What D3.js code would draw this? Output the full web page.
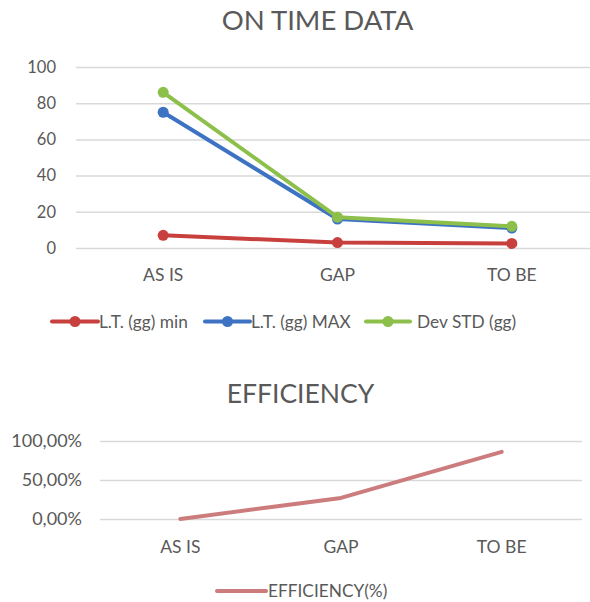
<!DOCTYPE html>
<html>
<head>
<meta charset="utf-8">
<script src="https://cdn.jsdelivr.net/npm/d3@7"></script>
<style>
  html, body { margin: 0; padding: 0; background: #fff; }
  svg { display: block; font-family: Lato, "Open Sans", sans-serif; }
</style>
</head>
<body>
<svg id="chart" width="590" height="602"></svg>
<script>
// Categories shared by both panels
const categories = ["AS IS", "GAP", "TO BE"];

// ON TIME DATA series
const ltMin = [7, 3, 2.5];
const ltMax = [75, 16, 11];
const devStd = [86, 17, 12];
const onTimeNames = ["L.T. (gg) min", "L.T. (gg) MAX", "Dev STD (gg)"];
const onTimeTicks = [0, 20, 40, 60, 80, 100];

// EFFICIENCY series
const efficiency = [0, 0.27, 0.86];
const efficiencyName = "EFFICIENCY(%)";
const efficiencyTicks = [0, 0.5, 1];

const colors = ["#C8403E", "#3E73C3", "#8DBF4B"];
const effColor = "#CC7C7C";
const textColor = "#595959";
const gridColor = "#D9D9D9";

const svg = d3.select("#chart");

// ---------- Upper panel: ON TIME DATA ----------
const upper = { left: 76, right: 599, top: 67, bottom: 248 };
const x1 = d3.scaleBand().domain(categories).range([upper.left, upper.right]);
const y1 = d3.scaleLinear().domain([0, 100]).range([upper.bottom, upper.top]);

svg.append("text")
  .attr("x", 317.5).attr("y", 30)
  .attr("text-anchor", "middle")
  .attr("font-size", 27.5).attr("fill", textColor)
  .text("ON TIME DATA");

const g1 = svg.append("g");
g1.append("g")
  .attr("transform", `translate(${upper.left},0)`)
  .call(d3.axisLeft(y1).tickValues(onTimeTicks).tickSize(-(590 - upper.left)).tickPadding(20))
  .call(g => g.select(".domain").remove())
  .call(g => g.selectAll("line").attr("stroke", gridColor).attr("stroke-width", 1.5))
  .call(g => g.selectAll("text").attr("fill", textColor).attr("font-size", 16.5)
    .attr("font-family", "Lato, sans-serif"));

g1.append("g")
  .attr("transform", `translate(0,${upper.bottom})`)
  .call(d3.axisBottom(x1).tickSize(0).tickPadding(21))
  .call(g => g.select(".domain").remove())
  .call(g => g.selectAll("text").attr("fill", textColor).attr("font-size", 17.5)
    .attr("font-family", "Lato, sans-serif"));

const onTimeSeries = [ltMin, ltMax, devStd];
const line1 = d3.line()
  .x((d, i) => x1(categories[i]) + x1.bandwidth() / 2)
  .y(d => y1(d));

onTimeSeries.forEach((vals, k) => {
  g1.append("path").datum(vals)
    .attr("d", line1)
    .attr("fill", "none")
    .attr("stroke", colors[k])
    .attr("stroke-width", 4)
    .attr("stroke-linejoin", "round");
  g1.selectAll(null).data(vals).enter().append("circle")
    .attr("cx", (d, i) => x1(categories[i]) + x1.bandwidth() / 2)
    .attr("cy", d => y1(d))
    .attr("r", 5.5)
    .attr("fill", colors[k]);
});

// Legend for the upper panel
const legend1 = [
  { x: 52, w: 46, tx: 99 },
  { x: 205, w: 45, tx: 251 },
  { x: 366, w: 44, tx: 417 }
];
legend1.forEach((p, k) => {
  const lg = svg.append("g");
  lg.append("line")
    .attr("x1", p.x).attr("x2", p.x + p.w)
    .attr("y1", 321.5).attr("y2", 321.5)
    .attr("stroke", colors[k]).attr("stroke-width", 4).attr("stroke-linecap", "round");
  lg.append("circle")
    .attr("cx", p.x + p.w / 2).attr("cy", 321.5).attr("r", 5.5).attr("fill", colors[k]);
  lg.append("text")
    .attr("x", p.tx).attr("y", 327.5)
    .attr("font-size", 17.3).attr("fill", textColor)
    .text(onTimeNames[k]);
});

// ---------- Lower panel: EFFICIENCY ----------
const lower = { left: 100, right: 582, top: 441, bottom: 519 };
const x2 = d3.scaleBand().domain(categories).range([lower.left, lower.right]);
const y2 = d3.scaleLinear().domain([0, 1]).range([lower.bottom, lower.top]);

svg.append("text")
  .attr("x", 300.5).attr("y", 403)
  .attr("text-anchor", "middle")
  .attr("font-size", 26.5).attr("fill", textColor)
  .text("EFFICIENCY");

const fmtPct = v => d3.format(".2f")(v * 100).replace(".", ",") + "%";

const g2 = svg.append("g");
g2.append("g")
  .attr("transform", `translate(${lower.left},0)`)
  .call(d3.axisLeft(y2).tickValues(efficiencyTicks).tickFormat(fmtPct)
    .tickSize(-(lower.right - lower.left)).tickPadding(18))
  .call(g => g.select(".domain").remove())
  .call(g => g.selectAll("line").attr("stroke", gridColor).attr("stroke-width", 1.5))
  .call(g => g.selectAll("text").attr("fill", textColor).attr("font-size", 18)
    .attr("font-family", "Lato, sans-serif"));

g2.append("g")
  .attr("transform", `translate(0,${lower.bottom})`)
  .call(d3.axisBottom(x2).tickSize(0).tickPadding(22))
  .call(g => g.select(".domain").remove())
  .call(g => g.selectAll("text").attr("fill", textColor).attr("font-size", 17.5)
    .attr("font-family", "Lato, sans-serif"));

const line2 = d3.line()
  .x((d, i) => x2(categories[i]) + x2.bandwidth() / 2)
  .y(d => y2(d));

g2.append("path").datum(efficiency)
  .attr("d", line2)
  .attr("fill", "none")
  .attr("stroke", effColor)
  .attr("stroke-width", 4)
  .attr("stroke-linejoin", "round")
  .attr("stroke-linecap", "round");

const lg2 = svg.append("g");
lg2.append("line")
  .attr("x1", 217).attr("x2", 266)
  .attr("y1", 591).attr("y2", 591)
  .attr("stroke", effColor).attr("stroke-width", 4).attr("stroke-linecap", "round");
lg2.append("text")
  .attr("x", 268).attr("y", 596.5)
  .attr("font-size", 17.3).attr("fill", textColor)
  .text(efficiencyName);
</script>
</body>
</html>
